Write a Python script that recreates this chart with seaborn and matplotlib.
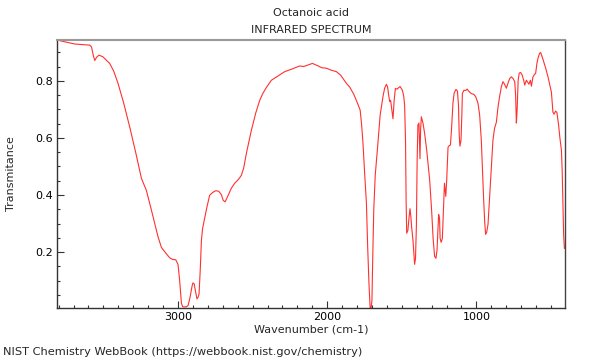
import numpy as np
import pandas as pd
import matplotlib
matplotlib.use("Agg")
import matplotlib.pyplot as plt
from matplotlib.ticker import MultipleLocator
import seaborn as sns

title_name = "Octanoic acid"
title_kind = "INFRARED SPECTRUM"
x_label = "Wavenumber (cm-1)"
y_label = "Transmitance"
footer = "NIST Chemistry WebBook (https://webbook.nist.gov/chemistry)"

wavenumber = [
    3811, 3779, 3692, 3592, 3580, 3568, 3558, 3545, 3529, 3503, 3458, 3431, 3402, 3364, 3324, 3284,
    3245, 3212, 3183, 3156, 3133, 3111, 3096, 3078, 3056, 3036, 3015, 3000, 2989, 2977, 2968, 2944,
    2932, 2918, 2906, 2900, 2891, 2885, 2873, 2866, 2859, 2851, 2843, 2835, 2824, 2808, 2788, 2767,
    2747, 2727, 2710, 2697, 2684, 2667, 2642, 2620, 2591, 2575, 2560, 2540, 2508, 2479, 2452, 2430,
    2406, 2374, 2332, 2285, 2238, 2184, 2158, 2131, 2099, 2064, 2037, 2005, 1977, 1938, 1910, 1871,
    1849, 1822, 1794, 1779, 1769, 1760, 1749, 1737, 1729, 1720, 1712, 1705, 1700, 1695, 1688, 1678,
    1660, 1645, 1626, 1615, 1603, 1595, 1586, 1581, 1575, 1566, 1559, 1551, 1543, 1531, 1521, 1511,
    1496, 1487, 1481, 1475, 1471, 1467, 1459, 1452, 1445, 1440, 1434, 1425, 1418, 1414, 1408, 1402,
    1397, 1392, 1385, 1378, 1374, 1369, 1358, 1347, 1333, 1313, 1300, 1290, 1280, 1271, 1264, 1257,
    1253, 1247, 1243, 1236, 1228, 1221, 1214, 1209, 1205, 1199, 1190, 1182, 1174, 1167, 1157, 1149,
    1137, 1127, 1120, 1115, 1110, 1103, 1097, 1094, 1083, 1072, 1062, 1052, 1034, 1018, 1005, 989,
    978, 967, 958, 951, 944, 938, 931, 922, 911, 901, 889, 878, 866, 855, 844, 833,
    822, 811, 799, 788, 777, 766, 754, 743, 737, 732, 727, 720, 713, 703, 693, 683,
    676, 665, 656, 648, 638, 631, 621, 609, 603, 594, 586, 576, 569, 563, 554, 536,
    520, 509, 497, 487, 479, 469, 460, 449, 440, 430, 425, 420, 415, 410, 406,
]

transmittance = [
    0.943, 0.939, 0.929, 0.925, 0.919, 0.890, 0.871, 0.883, 0.890, 0.884, 0.861, 0.834, 0.791, 0.722, 0.639, 0.550,
    0.458, 0.416, 0.357, 0.300, 0.252, 0.216, 0.206, 0.194, 0.180, 0.174, 0.173, 0.157, 0.101, 0.020, 0.008, 0.008,
    0.013, 0.045, 0.080, 0.092, 0.088, 0.069, 0.036, 0.041, 0.052, 0.136, 0.241, 0.283, 0.311, 0.353, 0.399, 0.409,
    0.415, 0.413, 0.402, 0.381, 0.376, 0.395, 0.424, 0.441, 0.457, 0.469, 0.494, 0.550, 0.627, 0.687, 0.732, 0.757,
    0.778, 0.802, 0.816, 0.832, 0.841, 0.852, 0.850, 0.855, 0.861, 0.853, 0.846, 0.844, 0.838, 0.832, 0.820, 0.791,
    0.778, 0.753, 0.718, 0.697, 0.645, 0.581, 0.476, 0.371, 0.224, 0.090, 0.004, 0.006, 0.031, 0.171, 0.346, 0.469,
    0.581, 0.680, 0.745, 0.774, 0.788, 0.778, 0.743, 0.727, 0.732, 0.697, 0.667, 0.732, 0.773, 0.771, 0.776, 0.780,
    0.767, 0.746, 0.715, 0.592, 0.381, 0.266, 0.276, 0.318, 0.352, 0.329, 0.288, 0.241, 0.188, 0.157, 0.178, 0.294,
    0.522, 0.645, 0.652, 0.527, 0.627, 0.674, 0.652, 0.616, 0.557, 0.452, 0.346, 0.248, 0.185, 0.178, 0.206, 0.283,
    0.332, 0.318, 0.248, 0.234, 0.248, 0.346, 0.441, 0.416, 0.395, 0.452, 0.567, 0.573, 0.575, 0.627, 0.722, 0.757,
    0.770, 0.764, 0.715, 0.609, 0.571, 0.592, 0.687, 0.756, 0.767, 0.766, 0.771, 0.764, 0.755, 0.753, 0.745, 0.721,
    0.680, 0.592, 0.469, 0.381, 0.304, 0.262, 0.269, 0.297, 0.395, 0.487, 0.592, 0.634, 0.655, 0.708, 0.746, 0.778,
    0.797, 0.788, 0.774, 0.792, 0.808, 0.814, 0.808, 0.797, 0.750, 0.652, 0.697, 0.802, 0.827, 0.829, 0.820, 0.802,
    0.785, 0.802, 0.795, 0.788, 0.802, 0.781, 0.813, 0.824, 0.825, 0.862, 0.881, 0.897, 0.899, 0.890, 0.876, 0.845,
    0.814, 0.788, 0.760, 0.690, 0.683, 0.694, 0.689, 0.645, 0.599, 0.557, 0.487, 0.364, 0.259, 0.213, 0.216,
]

x_ticks = [3000, 2000, 1000]
y_ticks = [0.2, 0.4, 0.6, 0.8]

df = pd.DataFrame({"wavenumber": wavenumber, "transmittance": transmittance})

sns.set_style("ticks")
plt.rcParams["font.family"] = ["DejaVu Sans"]

fig = plt.figure(figsize=(6, 3.6), dpi=100)
ax = fig.add_axes([57 / 600, 1 - 308 / 360, (565 - 57) / 600, (308 - 40) / 360])

sns.lineplot(data=df, x="wavenumber", y="transmittance", ax=ax, sort=False,
             estimator=None, color="#ff3030", linewidth=0.8)

ax.set_xlim(max(wavenumber), min(wavenumber))
ax.set_ylim(min(transmittance), max(transmittance))

ax.set_xticks(x_ticks)
ax.set_xticklabels([str(t) for t in x_ticks])
ax.set_yticks(y_ticks)
ax.set_yticklabels([f"{t:.1f}" for t in y_ticks])
ax.xaxis.set_minor_locator(MultipleLocator(100))
ax.yaxis.set_minor_locator(MultipleLocator(0.05))
ax.tick_params(axis="both", which="major", direction="in", length=5, width=0.8,
               labelsize=8, colors="#333333", labelcolor="black", pad=3)
ax.tick_params(axis="both", which="minor", direction="in", length=2.5, width=0.8, colors="#333333")

for side in ["left", "bottom", "right"]:
    ax.spines[side].set_color("#333333")
    ax.spines[side].set_linewidth(1.0)
ax.spines["top"].set_color("#999999")
ax.spines["top"].set_linewidth(1.5)
ax.spines["right"].set_color("#444444")
ax.spines["right"].set_visible(True)
ax.spines["top"].set_visible(True)

ax.set_xlabel(x_label, fontsize=8, labelpad=2)
ax.set_ylabel(y_label, fontsize=8, labelpad=14)

cx = (57 + 565) / 2 / 600
fig.text(cx, 1 - 13 / 360, title_name, ha="center", va="center", fontsize=8)
fig.text(cx, 1 - 30 / 360, title_kind, ha="center", va="center", fontsize=8)
fig.text(3 / 600, 1 - 352 / 360, footer, ha="left", va="center", fontsize=8.2)

fig.savefig("out.png", dpi=100)
